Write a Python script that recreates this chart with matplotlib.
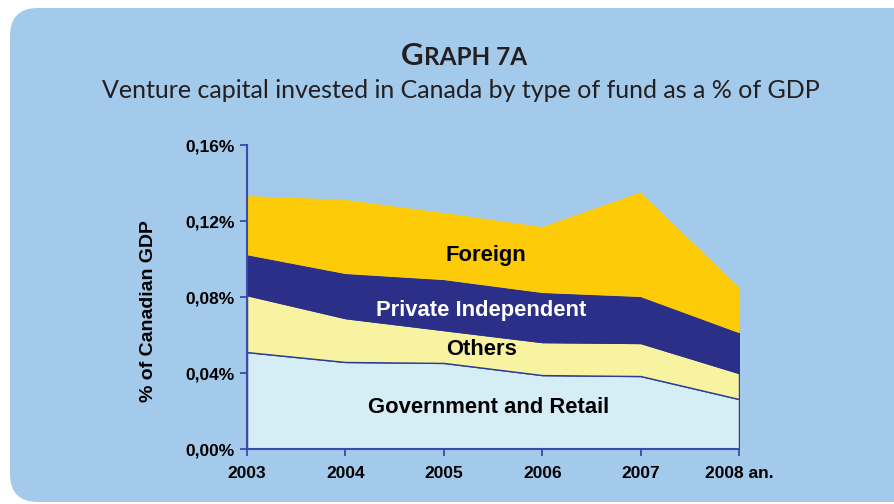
import matplotlib
matplotlib.use('Agg')
import matplotlib.pyplot as plt
from matplotlib.patches import FancyBboxPatch
from matplotlib.transforms import IdentityTransform

# ---- data (share of Canadian GDP, in %) ----
years = [2003, 2004, 2005, 2006, 2007, 2008]
year_labels = ['2003', '2004', '2005', '2006', '2007', '2008 an.']
government_retail = [0.0510, 0.0458, 0.0453, 0.0389, 0.0384, 0.0263]
others = [0.0300, 0.0231, 0.0173, 0.0174, 0.0174, 0.0137]
private_independent = [0.0210, 0.0232, 0.0263, 0.0258, 0.0242, 0.0210]
foreign = [0.0311, 0.0390, 0.0353, 0.0347, 0.0550, 0.0242]
y_ticks = [0.00, 0.04, 0.08, 0.12, 0.16]
series_names = ['Government and Retail', 'Others', 'Private Independent', 'Foreign']

# ---- style ----
W, H = 895, 504
BOX = '#A3C9EB'
C_GOV = '#D5EDF5'
C_OTH = '#F8F3A0'
C_PRI = '#2B2F87'
C_FOR = '#FDCB08'
AXC = '#3B4CA6'
ARIAL = ['Liberation Sans', 'DejaVu Sans']
HUM = ['Lato', 'DejaVu Sans']

fig = plt.figure(figsize=(W / 100, H / 100), dpi=100)
fig.patch.set_facecolor('white')

# rounded light-blue panel (pixel coordinates, origin bottom-left)
panel = FancyBboxPatch((10, 2), 940, 494, boxstyle='round,pad=0,rounding_size=28',
                       transform=IdentityTransform(), facecolor=BOX, edgecolor='none',
                       zorder=-10)
fig.patches.append(panel)

ax = fig.add_axes([247 / W, 55 / H, 492 / W, 304 / H])
ax.set_zorder(5)
ax.patch.set_alpha(0)

polys = ax.stackplot(years, government_retail, others, private_independent, foreign,
                     colors=[C_GOV, C_OTH, C_PRI, C_FOR], labels=series_names)
edge_cols = ['#2B3A98', '#2B3A98', C_PRI, 'none']
for p, ec in zip(polys, edge_cols):
    p.set_edgecolor(ec)
    p.set_linewidth(1.0)

ax.set_xlim(years[0], years[-1])
ax.set_ylim(y_ticks[0], y_ticks[-1])
ax.set_xticks(years)
ax.set_xticklabels(year_labels)
ax.set_yticks(y_ticks)
ax.set_yticklabels([f'{v:.2f}%'.replace('.', ',') for v in y_ticks])

for s in ['top', 'right']:
    ax.spines[s].set_visible(False)
for s in ['left', 'bottom']:
    ax.spines[s].set_color(AXC)
    ax.spines[s].set_linewidth(1.5)
    ax.spines[s].set_zorder(5)
ax.tick_params(axis='both', direction='out', length=5, width=1.3, color=AXC,
               labelsize=12.5, pad=4)
for lab in ax.get_xticklabels() + ax.get_yticklabels():
    lab.set_fontfamily(ARIAL)
    lab.set_fontweight('bold')
    lab.set_color('black')
ax.tick_params(axis='x', pad=7)

# labels inside areas
lab_kw = dict(ha='center', va='center', fontsize=15.8, fontweight='bold', family=ARIAL)
ax.text(2005.43, 0.1016, 'Foreign', color='black', **lab_kw)
ax.text(2005.38, 0.0727, 'Private Independent', color='white', **lab_kw)
ax.text(2005.38, 0.0522, 'Others', color='black', **lab_kw)
ax.text(2005.45, 0.0216, 'Government and Retail', color='black', **lab_kw)

# y-axis title
fig.text(149 / W, (H - 311) / H, '% of Canadian GDP', rotation=90, ha='center', va='center',
         fontsize=14, fontweight='bold', family=ARIAL, color='black')

# title in small caps
tcol = '#231F20'
renderer = fig.canvas.get_renderer()
t1 = fig.text(0, (H - 65) / H, 'G', fontsize=22.5, fontweight='bold', family=HUM,
              color=tcol, va='baseline', ha='left')
t2 = fig.text(0, (H - 65) / H, 'RAPH 7A', fontsize=17.5, fontweight='bold', family=HUM,
              color=tcol, va='baseline', ha='left')
w1 = t1.get_window_extent(renderer).width
w2 = t2.get_window_extent(renderer).width
x0 = 464 - (w1 + w2) / 2
t1.set_x(x0 / W)
t2.set_x((x0 + w1) / W)

fig.text(461 / W, (H - 98) / H,
         'Venture capital invested in Canada by type of fund as a % of GDP',
         fontsize=18, family=HUM, color=tcol, ha='center', va='baseline')

fig.savefig('out.png', dpi=100, facecolor='white')
